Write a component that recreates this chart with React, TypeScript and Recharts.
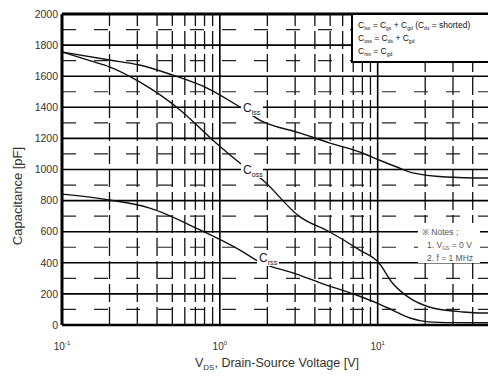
import React from 'react';
import { LineChart, Line, XAxis, YAxis, ReferenceLine } from 'recharts';

// Capacitance characteristics
const cissVolts = [0.1, 0.2, 0.31, 0.5, 0.83, 1.34, 1.79, 3.2, 5.0, 8.0, 10.2, 13.2, 16.7, 27, 50];
const cissPf = [1756, 1704, 1672, 1608, 1524, 1402, 1318, 1235, 1170, 1106, 1061, 1016, 978, 952, 945];

const cossVolts = [0.1, 0.15, 0.2, 0.31, 0.56, 0.9, 1.34, 1.87, 3.22, 4.97, 7.7, 10.2, 12.4, 15.9, 21.2, 34.6, 50];
const cossPf = [1756, 1700, 1660, 1563, 1383, 1190, 1042, 932, 695, 598, 482, 399, 270, 174, 116, 84, 77];

const crssVolts = [0.1, 0.2, 0.36, 0.75, 1.34, 1.79, 2.9, 4.5, 7.7, 9.9, 12.4, 16, 21, 30, 50];
const crssPf = [842, 804, 752, 611, 482, 405, 335, 265, 185, 141, 96, 45, 20, 15, 14];

const yTicks = [0, 200, 400, 600, 800, 1000, 1200, 1400, 1600, 1800, 2000];
const yMajorGrid = [200, 400, 600, 800, 1000, 1200, 1400, 1600, 1800];
const yMinorGrid = [100, 300, 500, 700, 900, 1100, 1300, 1500, 1700, 1900];
const xDecades = [1, 10];
const xMinorGrid = [0.2, 0.3, 0.4, 0.5, 0.6, 0.7, 0.8, 0.9, 2, 3, 4, 5, 6, 7, 8, 9, 20, 30, 40];
const xTicks = [0.1, 1, 10];
const xTickExp = ['-1', '0', '1'];

const zip = (v: number[], c: number[]) => v.map((x, i) => ({ v: x, c: c[i] }));

const FONT = "'Liberation Sans Narrow', 'Liberation Sans', Arial, sans-serif";

const XTick = ({ x, y, payload }: any) => {
  const i = xTicks.indexOf(payload.value);
  return (
    <text x={x} y={y + 17} textAnchor="middle" fontFamily={FONT} fontSize={10} fill="#333">
      10<tspan dy={-5} fontSize={6}>{xTickExp[i]}</tspan>
    </text>
  );
};

const Sub = ({ x, y, main, sub, size = 12 }: any) => (
  <text x={x} y={y} fontFamily={FONT} fontSize={size} fill="#222">
    {main}
    <tspan dy={3} fontSize={size * 0.6}>{sub}</tspan>
  </text>
);

export default function App() {
  const lineProps = {
    dataKey: 'c',
    stroke: '#111',
    strokeWidth: 1.4,
    dot: false,
    type: 'monotone' as const,
    isAnimationActive: false,
  };

  return (
    <div style={{ position: 'absolute', left: 0, top: 0, width: 488, height: 380, background: '#fff' }}>
      <LineChart width={488} height={380} margin={{ top: 14, right: 0, bottom: 0, left: 0 }}>
        <XAxis
          dataKey="v"
          type="number"
          scale="log"
          domain={[0.1, 50]}
          ticks={xTicks}
          allowDataOverflow
          height={55}
          tick={<XTick />}
          tickLine={false}
          axisLine={{ stroke: '#000', strokeWidth: 2.5 }}
        />
        <YAxis
          type="number"
          domain={[0, 2000]}
          ticks={yTicks}
          width={62}
          tickSize={2}
          tickLine={false}
          axisLine={{ stroke: '#000', strokeWidth: 3 }}
          tick={{ fontFamily: FONT, fontSize: 10.5, fill: '#333' }}
        />
        {yMinorGrid.map((y) => (
          <ReferenceLine key={`ym${y}`} y={y} stroke="#222" strokeWidth={1.2} strokeDasharray="14 18" />
        ))}
        {xMinorGrid.map((x) => (
          <ReferenceLine key={`xm${x}`} x={x} stroke="#111" strokeWidth={1.3} strokeDasharray="18 5" />
        ))}
        {yMajorGrid.map((y) => (
          <ReferenceLine key={`yM${y}`} y={y} stroke="#000" strokeWidth={1.6} />
        ))}
        {xDecades.map((x) => (
          <ReferenceLine key={`xM${x}`} x={x} stroke="#000" strokeWidth={1.6} />
        ))}
        <ReferenceLine y={2000} stroke="#000" strokeWidth={3} />
        <Line data={zip(cissVolts, cissPf)} {...lineProps} />
        <Line data={zip(cossVolts, cossPf)} {...lineProps} />
        <Line data={zip(crssVolts, crssPf)} {...lineProps} />
      </LineChart>
      <svg
        width={488}
        height={380}
        style={{ position: 'absolute', left: 0, top: 0, pointerEvents: 'none' }}
      >
        {/* curve labels */}
        <rect x={241} y={100} width={22} height={16} fill="#fff" />
        <Sub x={243} y={112} main="C" sub="iss" />
        <rect x={241} y={162} width={22} height={16} fill="#fff" />
        <Sub x={243} y={174} main="C" sub="oss" />
        <rect x={257} y={250} width={22} height={16} fill="#fff" />
        <Sub x={259} y={262} main="C" sub="rss" />

        {/* formula box */}
        <rect x={352} y={14} width={140} height={48} fill="#fff" stroke="#000" strokeWidth={2} />
        <text x={358} y={28} fontFamily={FONT} fontSize={8.5} fill="#111">
          C<tspan dy={2} fontSize={5}>iss</tspan>
          <tspan dy={-2}> = C</tspan>
          <tspan dy={2} fontSize={5}>gs</tspan>
          <tspan dy={-2}> + C</tspan>
          <tspan dy={2} fontSize={5}>gd</tspan>
          <tspan dy={-2}> (C</tspan>
          <tspan dy={2} fontSize={5}>ds</tspan>
          <tspan dy={-2}> = shorted)</tspan>
        </text>
        <text x={358} y={41} fontFamily={FONT} fontSize={8.5} fill="#111">
          C<tspan dy={2} fontSize={5}>oss</tspan>
          <tspan dy={-2}> = C</tspan>
          <tspan dy={2} fontSize={5}>ds</tspan>
          <tspan dy={-2}> + C</tspan>
          <tspan dy={2} fontSize={5}>gd</tspan>
        </text>
        <text x={358} y={54} fontFamily={FONT} fontSize={8.5} fill="#111">
          C<tspan dy={2} fontSize={5}>rss</tspan>
          <tspan dy={-2}> = C</tspan>
          <tspan dy={2} fontSize={5}>gd</tspan>
        </text>

        {/* notes */}
        <rect x={418} y={223} width={62} height={40} fill="#fff" />
        <text x={422} y={235} fontFamily={FONT} fontSize={8.5} fill="#555">※ Notes ;</text>
        <text x={427} y={248} fontFamily={FONT} fontSize={8.5} fill="#555">
          1. V<tspan dy={2} fontSize={5}>GS</tspan>
          <tspan dy={-2}> = 0 V</tspan>
        </text>
        <text x={427} y={261} fontFamily={FONT} fontSize={8.5} fill="#555">2. f = 1 MHz</text>

        {/* axis titles */}
        <text
          x={0}
          y={0}
          transform="translate(22,196) rotate(-90)"
          textAnchor="middle"
          fontFamily={FONT}
          fontSize={13}
          fill="#333"
        >
          Capacitance [pF]
        </text>
        <text x={277} y={367} textAnchor="middle" fontFamily={FONT} fontSize={12.5} fill="#333">
          V<tspan dy={3} fontSize={8}>DS</tspan>
          <tspan dy={-3}>, Drain-Source Voltage [V]</tspan>
        </text>
      </svg>
    </div>
  );
}
